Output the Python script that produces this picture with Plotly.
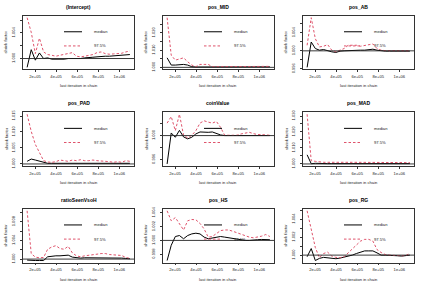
import plotly.graph_objects as go

# ---------------- data ----------------
iterations = [125000, 164000, 203000, 242000, 281000, 320000, 359000, 398000, 437000,
              476000, 515000, 554000, 593000, 632000, 671000, 710000, 749000, 788000,
              827000, 866000, 905000, 944000, 983000, 1022000, 1061000, 1100000]

titles = ["(Intercept)", "pos_MID", "pos_AB", "pos_PAD", "coinValue", "pos_MAD",
          "ratioSeenVsoH", "pos_HS", "pos_RG"]

median_intercept = [0.99862, 1.00138, 0.99974, 1.00087, 1.0, 1.0001, 0.9999, 0.9999, 0.9998,
                    0.9999, 1.0, 1.0, 0.9999, 1.0, 1.0001, 1.0001, 1.0002, 1.00026, 1.00036,
                    1.00036, 1.00036, 1.00041, 1.00041, 1.00046, 1.00051, 1.00062]
q975_intercept = [1.00638, 1.0041, 1.00077, 1.00318, 1.00103, 1.00062, 1.00051, 1.00036,
                  1.00051, 1.00067, 1.00077, 1.00092, 1.00036, 1.00026, 1.00036, 1.00051,
                  1.00062, 1.00092, 1.00103, 1.00077, 1.00067, 1.00072, 1.00077, 1.00082,
                  1.00103, 1.00118]

median_pos_mid = [1.00552, 1.00133, 1.00133, 1.00171, 1.00171, 1.00133, 1.00038, 1.00019,
                  1.0002, 1.0002, 1.00025, 1.0002, 1.0002, 1.0002, 1.00025, 1.0002, 1.0002,
                  1.00025, 1.0003, 1.0002, 1.0002, 1.0002, 1.00025, 1.0003, 1.0003, 1.0003]
q975_pos_mid = [1.02884, 1.00705, 1.00419, 1.00476, 1.00552, 1.00324, 1.00133, 1.00038,
                1.00171, 1.00171, 1.00171, 1.00038, 1.00038, 1.00038, 1.00057, 1.00038,
                1.00057, 1.00076, 1.00038, 1.00038, 1.00057, 1.00038, 1.00057, 1.00057,
                1.00038, 1.00057]

median_pos_ab = [0.99633, 1.00196, 1.00051, 1.00015, 1.00029, 1.0, 0.99978, 0.99964, 0.99993,
                 1.0, 1.00007, 1.00007, 1.00007, 1.00015, 1.00015, 1.00029, 1.00036, 1.00015,
                 1.0, 0.99993, 0.99993, 0.99993, 0.99993, 0.99993, 0.99993, 0.99993]
q975_pos_ab = [1.00124, 1.00737, 1.00269, 1.00087, 1.00102, 1.00138, 1.00015, 0.99978,
               1.00015, 1.00051, 1.00124, 1.00124, 1.00124, 1.00102, 1.00124, 1.00138,
               1.00153, 1.00051, 1.00015, 1.00005, 1.00003, 1.00003, 1.00002, 1.00002,
               1.00002, 1.00002]

median_pos_pad = [1.00082, 1.00153, 1.00122, 1.00082, 1.00041, 1.0002, 1.0002, 1.0002, 1.0003,
                  1.0002, 1.0002, 1.0003, 1.0002, 1.0002, 1.0003, 1.0002, 1.0002, 1.0002,
                  1.0003, 1.0002, 1.0002, 1.0002, 1.0002, 1.0002, 1.0002, 1.0002]
q975_pos_pad = [1.01555, 1.0102, 1.00612, 1.00357, 1.00102, 1.00061, 1.00051, 1.00071,
                1.00122, 1.00102, 1.00082, 1.00122, 1.00102, 1.00133, 1.00102, 1.00102,
                1.00122, 1.00102, 1.00102, 1.00082, 1.00071, 1.00051, 1.00071, 1.00051,
                1.00102, 1.00082]

median_coin = [0.99523, 1.00044, 0.99972, 1.00088, 0.99978, 0.99945, 0.99972, 1.00028,
               1.00061, 1.00055, 1.00055, 1.00061, 1.00033, 1.00011, 1.0, 1.0, 0.99994, 1.0,
               1.00006, 1.00006, 1.00006, 1.00006, 1.0, 1.0, 1.0, 1.0]
q975_coin = [1.0021, 1.0032, 1.00083, 1.00359, 1.00006, 0.99961, 1.00006, 1.00083, 1.0021,
             1.00249, 1.00227, 1.0021, 1.00238, 1.00138, 1.00006, 1.00002, 1.0, 1.00006,
             1.00028, 1.00044, 1.00055, 1.00033, 1.00017, 1.00017, 1.00011, 1.00006]

median_pos_mad = [1.00571, 1.00013, 1.00041, 1.0002, 1.00022, 1.00018, 1.0002, 1.00022,
                  1.0002, 1.00018, 1.0002, 1.0002, 1.00022, 1.0002, 1.00018, 1.0002, 1.0002,
                  1.00022, 1.0002, 1.0002, 1.00018, 1.0002, 1.0002, 1.00022, 1.0002, 1.0002]
q975_pos_mad = [1.0311, 1.00204, 1.00163, 1.00122, 1.00102, 1.00102, 1.00122, 1.00102,
                1.00102, 1.00082, 1.00102, 1.00102, 1.00102, 1.00102, 1.00102, 1.00102,
                1.00122, 1.00102, 1.00102, 1.00102, 1.00102, 1.00102, 1.00082, 1.00102,
                1.00082, 1.00082]

median_ratio = [0.99979, 0.99969, 0.99969, 0.99969, 0.99969, 1.00049, 1.00063, 1.0007, 1.0007,
                1.0007, 1.00084, 1.00042, 1.00028, 1.00021, 1.00028, 1.00028, 1.00035,
                1.00035, 1.00035, 1.00035, 1.00028, 1.00028, 1.00028, 1.00021, 1.00014, 1.00007]
q975_ratio = [1.01035, 1.00119, 1.00042, 1.00028, 1.00035, 1.00211, 1.0026, 1.00288, 1.00225,
              1.00211, 1.00274, 1.00133, 1.0007, 1.00049, 1.0007, 1.00077, 1.00084, 1.00105,
              1.00119, 1.00119, 1.00098, 1.00084, 1.00084, 1.00077, 1.00035, 1.00014]

median_pos_hs = [0.99707, 0.99929, 1.00057, 1.00071, 1.00024, 1.00071, 1.00095, 1.00105,
                 1.00095, 1.00048, 1.00024, 1.00038, 1.00048, 1.00057, 1.00048, 1.00038,
                 1.00024, 1.00024, 1.0001, 1.0, 1.0, 1.0, 1.0001, 1.00014, 1.0001, 1.0001]
q975_pos_hs = [1.00431, 1.00286, 1.00333, 1.00238, 1.00152, 1.00286, 1.00305, 1.003, 1.00248,
               1.00167, 1.00048, 1.00057, 1.00105, 1.00143, 1.00152, 1.00152, 1.00133, 1.0011,
               1.00095, 1.00062, 1.00048, 1.00038, 1.00048, 1.00062, 1.00086, 1.00057]

median_pos_rg = [0.99982, 1.00073, 0.9994, 0.99964, 0.99975, 0.99971, 0.99971, 0.9996, 0.99967,
                 0.99978, 0.99982, 1.0, 1.00018, 1.00036, 1.00047, 1.00047, 1.00047, 1.00025,
                 1.0, 1.0, 1.0, 0.99996, 0.99993, 0.99989, 0.99993, 1.0]
q975_pos_rg = [1.00492, 1.00273, 1.00084, 0.99971, 1.00018, 1.00033, 0.99989, 0.99975,
               0.99971, 0.99982, 1.00025, 1.00073, 1.0012, 1.00156, 1.00175, 1.00175, 1.00156,
               1.00062, 1.00029, 1.00007, 1.0, 0.99996, 0.99996, 0.99993, 0.99996, 1.00018]

medians = [median_intercept, median_pos_mid, median_pos_ab, median_pos_pad, median_coin,
           median_pos_mad, median_ratio, median_pos_hs, median_pos_rg]
q975s = [q975_intercept, q975_pos_mid, q975_pos_ab, q975_pos_pad, q975_coin,
         q975_pos_mad, q975_ratio, q975_pos_hs, q975_pos_rg]

x_tickvals = [200000, 400000, 600000, 800000, 1000000]
x_ticktext = ["2e+05", "4e+05", "6e+05", "8e+05", "1e+06"]

y_tickvals = [
    [0.998, 1.000, 1.002, 1.004, 1.006],
    [1.000, 1.005, 1.010, 1.015, 1.020, 1.025, 1.030],
    [0.996, 0.998, 1.000, 1.002, 1.004, 1.006, 1.008],
    [1.000, 1.005, 1.010, 1.015],
    [0.996, 0.998, 1.000, 1.002, 1.004],
    [1.000, 1.005, 1.010, 1.015, 1.020, 1.025, 1.030],
    [1.000, 1.002, 1.004, 1.006, 1.008, 1.010],
    [0.998, 1.000, 1.002, 1.004],
    [1.000, 1.001, 1.002, 1.003, 1.004, 1.005],
]
y_ticktext = [
    ["", "1.000", "", "1.004", ""],
    ["1.000", "", "1.010", "", "1.020", "", "1.030"],
    ["0.996", "", "1.000", "", "1.004", "", "1.008"],
    ["1.000", "1.005", "1.010", "1.015"],
    ["0.996", "", "1.000", "", "1.004"],
    ["1.000", "", "1.010", "", "1.020", "", "1.030"],
    ["1.000", "", "1.004", "", "1.008", ""],
    ["0.998", "1.000", "1.002", "1.004"],
    ["1.000", "", "1.002", "", "1.004", ""],
]

# ---------------- layout geometry (pixels) ----------------
W, H = 421, 287
col_px = [(23, 134), (163, 274), (303, 414)]
row_px = [(13, 68), (112, 167), (211, 266)]

FONT = "Liberation Sans, Arial, sans-serif"
RED = "#DF536B"
SMALL = 4.1

def px_x(p):
    return p / W

def px_y(p):
    return 1 - p / H

fig = go.Figure()
layout = dict(
    width=W, height=H, margin=dict(l=0, r=0, t=0, b=0),
    paper_bgcolor="white", plot_bgcolor="white", showlegend=False,
    font=dict(family=FONT, color="black"),
)
annotations = []
shapes = []

xmin, xmax = min(iterations), max(iterations)
xpad = 0.04 * (xmax - xmin)

for i in range(9):
    r, c = divmod(i, 3)
    n = i + 1
    xa = "x" if n == 1 else f"x{n}"
    ya = "y" if n == 1 else f"y{n}"
    x0p, x1p = col_px[c]
    y0p, y1p = row_px[r]

    med, q = medians[i], q975s[i]
    lo = min(1.0, min(med), min(q))
    hi = max(1.0, max(med), max(q))
    ypad = 0.04 * (hi - lo)

    fig.add_trace(go.Scatter(x=iterations, y=med, mode="lines", xaxis=xa, yaxis=ya,
                             line=dict(color="black", width=1), hoverinfo="skip"))
    fig.add_trace(go.Scatter(x=iterations, y=q, mode="lines", xaxis=xa, yaxis=ya,
                             line=dict(color=RED, width=1, dash="2.5px,2px"),
                             hoverinfo="skip"))

    axis_common = dict(showgrid=False, zeroline=False, showline=True, mirror=True,
                       linecolor="#333333", linewidth=0.8, ticks="outside", ticklen=2,
                       tickwidth=0.7, tickcolor="#333333",
                       tickfont=dict(family=FONT, size=SMALL, color="#222222"))
    layout[f"xaxis{n}"] = dict(axis_common, domain=[px_x(x0p), px_x(x1p)],
                               range=[xmin - xpad, xmax + xpad], anchor=ya,
                               tickvals=x_tickvals, ticktext=x_ticktext,
                               ticklabelstandoff=1)
    layout[f"yaxis{n}"] = dict(axis_common, domain=[px_y(y1p), px_y(y0p)],
                               range=[lo - ypad, hi + ypad], anchor=xa,
                               tickvals=y_tickvals[i], ticktext=y_ticktext[i],
                               tickangle=-90, ticklabelstandoff=3)

    # horizontal reference line at 1
    shapes.append(dict(type="line", xref=f"{xa} domain", yref=ya, x0=0, x1=1, y0=1, y1=1,
                       line=dict(color="#222222", width=0.9)))

    # legend (top right, no box)
    h = y1p - y0p
    wbox = x1p - x0p
    for k, (lab, col, dash) in enumerate([("median", "black", "solid"),
                                           ("97.5%", RED, "2.5px,2px")]):
        yoff = 16.5 if k == 0 else 31
        yd = 1 - yoff / h
        shapes.append(dict(type="line", xref=f"{xa} domain", yref=f"{ya} domain",
                           x0=41 / wbox, x1=59 / wbox, y0=yd, y1=yd,
                           line=dict(color=col, width=1, dash=dash)))
        annotations.append(dict(xref="paper", yref="paper", x=px_x(x0p + 69),
                                y=px_y(y0p + yoff), text=lab, showarrow=False,
                                xanchor="left", yanchor="middle",
                                font=dict(family=FONT, size=SMALL, color="#222222")))

    # panel title
    annotations.append(dict(xref="paper", yref="paper", x=px_x((x0p + x1p) / 2),
                            y=px_y(y0p - 9), text=f"<b>{titles[i]}</b>", showarrow=False,
                            xanchor="center", yanchor="middle",
                            font=dict(family=FONT, size=5, color="black")))
    # x axis title
    annotations.append(dict(xref="paper", yref="paper", x=px_x((x0p + x1p) / 2),
                            y=px_y(y1p + 17), text="last iteration in chain",
                            showarrow=False, xanchor="center", yanchor="middle",
                            font=dict(family=FONT, size=SMALL, color="#222222")))
    # y axis title
    annotations.append(dict(xref="paper", yref="paper", x=px_x(x0p - 17),
                            y=px_y((y0p + y1p) / 2), text="shrink factor", textangle=-90,
                            showarrow=False, xanchor="center", yanchor="middle",
                            font=dict(family=FONT, size=SMALL, color="#222222")))

layout["annotations"] = annotations
layout["shapes"] = shapes
fig.update_layout(**layout)
fig.write_html("out.html")
